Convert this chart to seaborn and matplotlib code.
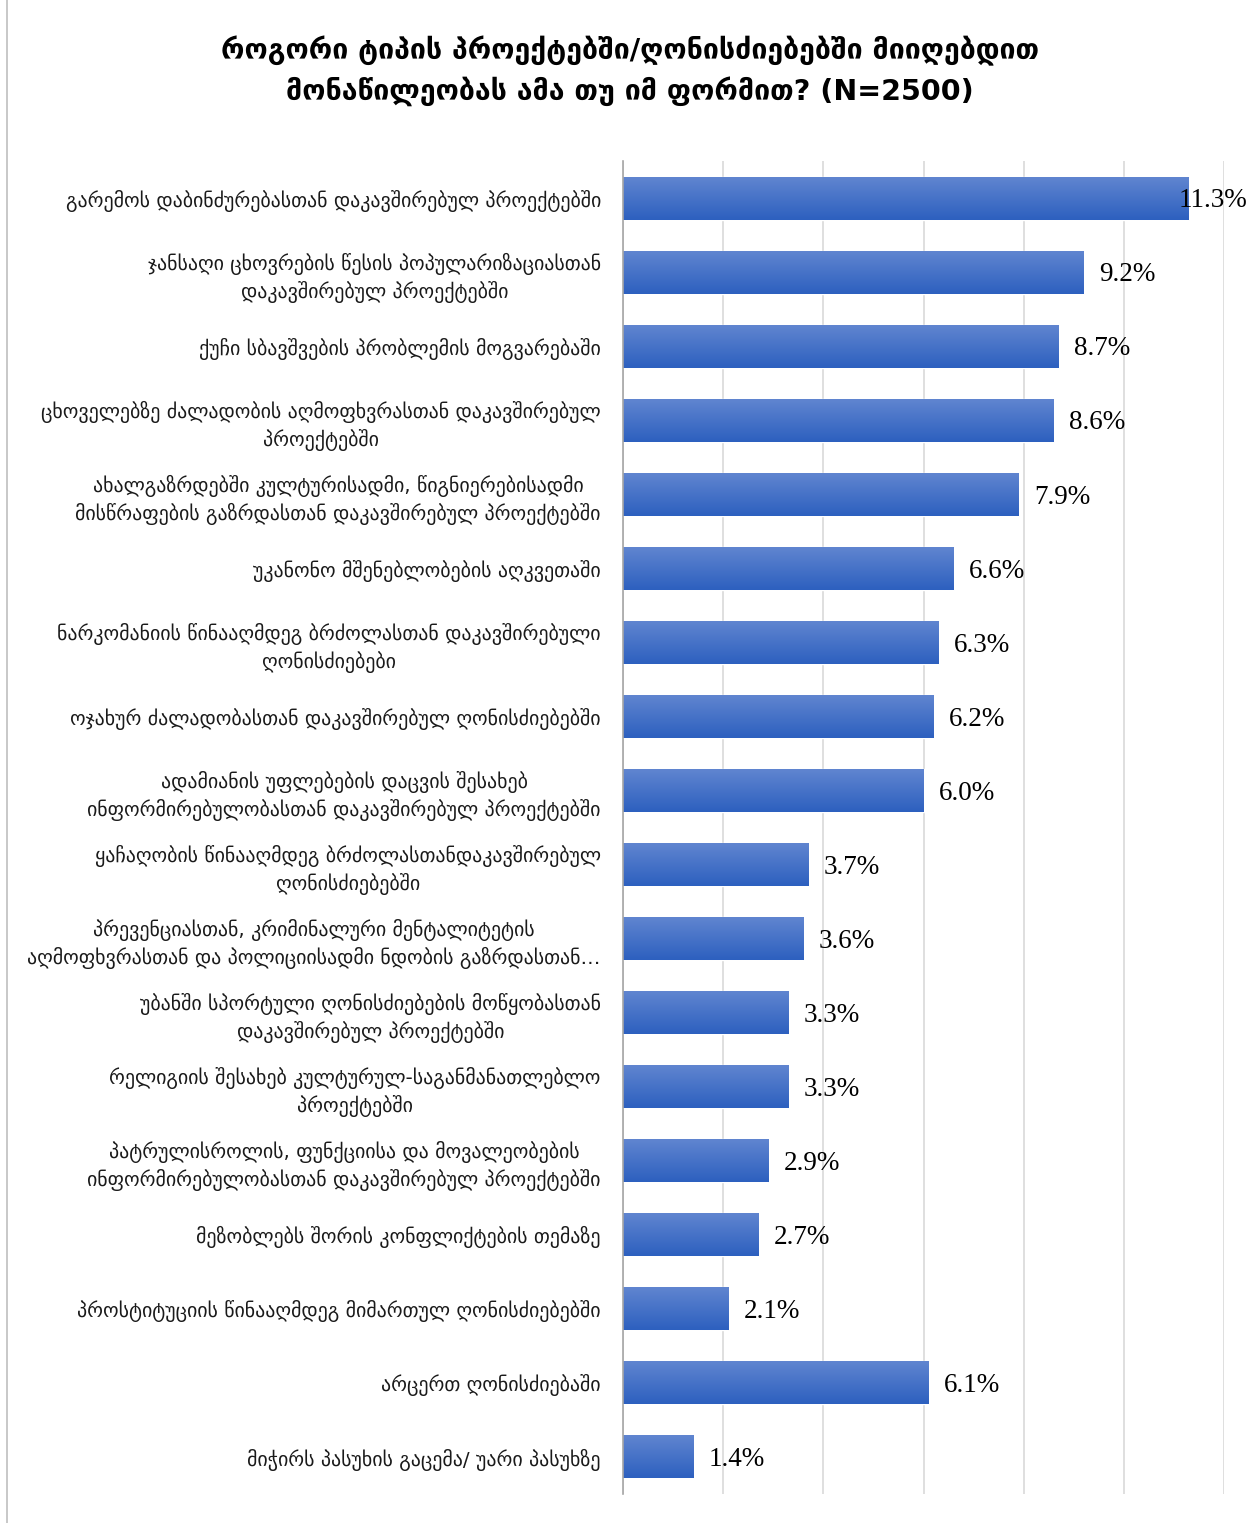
import numpy as np
import pandas as pd
import matplotlib
matplotlib.use('Agg')
import matplotlib.pyplot as plt
import seaborn as sns

# Dados
categorias = [
    'გარემოს დაბინძურებასთან დაკავშირებულ პროექტებში',
    'ჯანსაღი ცხოვრების წესის პოპულარიზაციასთან\nდაკავშირებულ პროექტებში',
    'ქუჩი სბავშვების პრობლემის მოგვარებაში',
    'ცხოველებზე ძალადობის აღმოფხვრასთან დაკავშირებულ\nპროექტებში',
    'ახალგაზრდებში კულტურისადმი, წიგნიერებისადმი\nმისწრაფების გაზრდასთან დაკავშირებულ პროექტებში',
    'უკანონო მშენებლობების აღკვეთაში',
    'ნარკომანიის წინააღმდეგ ბრძოლასთან დაკავშირებული\nღონისძიებები',
    'ოჯახურ ძალადობასთან დაკავშირებულ ღონისძიებებში',
    'ადამიანის უფლებების დაცვის შესახებ\nინფორმირებულობასთან დაკავშირებულ პროექტებში',
    'ყაჩაღობის წინააღმდეგ ბრძოლასთანდაკავშირებულ\nღონისძიებებში',
    'პრევენციასთან, კრიმინალური მენტალიტეტის\nაღმოფხვრასთან და პოლიციისადმი ნდობის გაზრდასთან…',
    'უბანში სპორტული ღონისძიებების მოწყობასთან\nდაკავშირებულ პროექტებში',
    'რელიგიის შესახებ კულტურულ-საგანმანათლებლო\nპროექტებში',
    'პატრულისროლის, ფუნქციისა და მოვალეობების\nინფორმირებულობასთან დაკავშირებულ პროექტებში',
    'მეზობლებს შორის კონფლიქტების თემაზე',
    'პროსტიტუციის წინააღმდეგ მიმართულ ღონისძიებებში',
    'არცერთ ღონისძიებაში',
    'მიჭირს პასუხის გაცემა/ უარი პასუხზე',
]
valores = [11.3, 9.2, 8.7, 8.6, 7.9, 6.6, 6.3, 6.2, 6.0, 3.7, 3.6, 3.3, 3.3, 2.9, 2.7, 2.1, 6.1, 1.4]
titulo = 'როგორი ტიპის პროექტებში/ღონისძიებებში მიიღებდით\nმონაწილეობას ამა თუ იმ ფორმით? (N=2500)'

df = pd.DataFrame({'cat': categorias, 'val': valores})

sns.set_style('white')
plt.rcParams['font.family'] = ['DejaVu Sans']

fig = plt.figure(figsize=(12.53, 15.23), dpi=100)
W, H = 1253, 1523
ax = fig.add_axes([623 / W, 1 - 1494 / H, (1224 - 623) / W, (1494 - 161) / H])

sns.barplot(data=df, x='val', y='cat', orient='h', color='#3f6fc8', width=0.58, ax=ax)

# gradiente nas barras
grad = np.linspace(0, 1, 100).reshape(-1, 1)
cmap = matplotlib.colors.LinearSegmentedColormap.from_list('g', ['#6085d0', '#2d60bf'])
for p in ax.patches:
    x0, y0 = p.get_x(), p.get_y()
    w, h = p.get_width(), p.get_height()
    im = ax.imshow(grad, extent=[x0, x0 + w, y0 + h, y0], cmap=cmap, aspect='auto', zorder=p.get_zorder() + 0.1)
    im.set_clip_path(p)

ax.set_xlim(0, 12)
ax.set_ylim(len(categorias) - 0.5, -0.5)
ax.set_xticks(np.arange(0, 13, 2))
ax.tick_params(axis='x', length=0, labelbottom=False)
ax.tick_params(axis='y', length=0, pad=16)
ax.grid(axis='x', color='#d9d9d9', linewidth=1.2)
ax.set_axisbelow(True)
ax.set_xlabel('')
ax.set_ylabel('')
for s in ['top', 'right', 'bottom']:
    ax.spines[s].set_visible(False)
ax.spines['left'].set_color('#a6a6a6')
ax.spines['left'].set_linewidth(1.2)
ax.spines['left'].set_zorder(5)

for lbl in ax.get_yticklabels():
    lbl.set_fontsize(14.3)
    lbl.set_multialignment('center')
    lbl.set_linespacing(1.35)
    lbl.set_color('#1a1a1a')

# Valores nas barras
for i, v in enumerate(valores):
    if v > 11:
        t = ax.annotate(f'{v:.1f}%', xy=(1247 / W, i), xycoords=('figure fraction', 'data'),
                        xytext=(0, -2), textcoords='offset points', ha='right', va='center',
                        fontsize=19.5, family='Liberation Serif', color='#000000')
    else:
        ax.annotate(f'{v:.1f}%', xy=(v, i), xytext=(11, -2), textcoords='offset points',
                    ha='left', va='center', fontsize=19.5, family='Liberation Serif', color='#000000')

fig.text(630 / W, 1 - 71 / H, titulo, ha='center', va='center', fontsize=20.5, fontweight='bold',
         linespacing=1.42, color='#000000')

# borda à esquerda
fig.add_artist(plt.Line2D([7 / W, 7 / W], [0, 1], color='#bfbfbf', linewidth=1.2))

plt.savefig('out.png', dpi=100)
